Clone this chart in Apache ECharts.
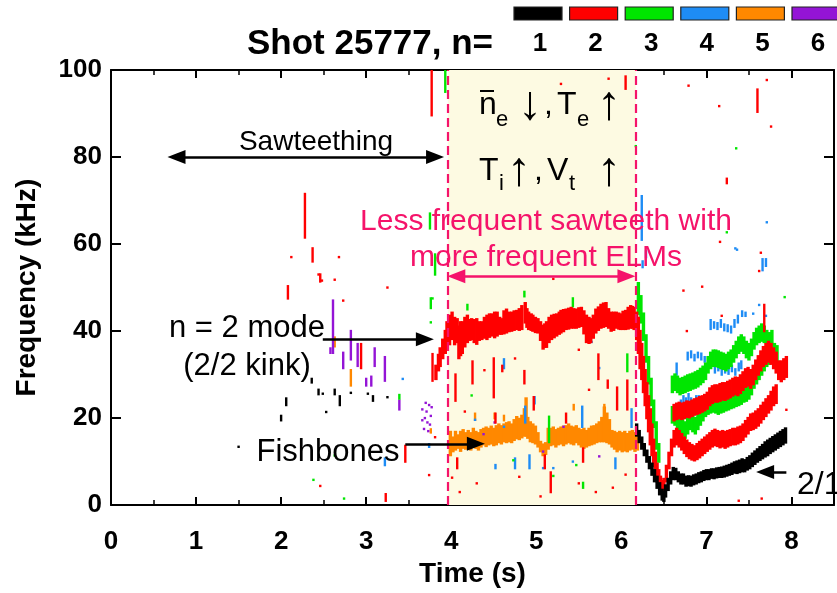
<!DOCTYPE html>
<html>
<head>
<meta charset="utf-8">
<title>Shot 25777 mode spectrogram</title>
<script src="https://cdn.jsdelivr.net/npm/echarts@6/dist/echarts.min.js"></script>
<style>
  html, body { margin: 0; padding: 0; background: #fff; }
  #chart { width: 837px; height: 593px; }
</style>
</head>
<body>
<div id="chart"></div>
<script>
// ---- Axis ranges and tick labels ----
const timeRange = [0, 8.5];
const timeTicks = [0, 1, 2, 3, 4, 5, 6, 7, 8];
const freqRange = [0, 100];
const freqTicks = [0, 20, 40, 60, 80, 100];
const modeNumbers = ['1', '2', '3', '4', '5', '6'];

// ---- Mode data: [time (s), fLow (kHz), fHigh (kHz)] or [time, f] ----
// Continuous traces are drawn as dense bands, isolated points as small dots.

// n = 1 (black)
const mode1Points = [
  [1.50, 13.4], [2.00, 19.5, 20.5], [2.06, 23, 24.5], [2.36, 28.2, 29], [2.44, 25.5, 26.5],
  [2.49, 25.6], [2.53, 21.4], [2.63, 25.5, 26.5], [2.69, 23, 25], [2.82, 25.8],
  [3.02, 25.6], [3.08, 24, 25], [3.25, 24.8]
];
const mode1Trace = [
  [6.18, 16, 18.5], [6.21, 14.5, 17], [6.24, 13, 15.5], [6.27, 11.5, 14], [6.30, 10, 12.5],
  [6.33, 8.5, 11], [6.36, 7, 9.5], [6.39, 5.5, 8], [6.42, 4, 6.5], [6.45, 2.5, 5],
  [6.48, 1.3, 3.5], [6.50, 1, 3], [6.52, 2, 4.5], [6.55, 3.5, 6], [6.58, 5, 7.5],
  [6.61, 6, 8.5], [6.64, 6, 8.3], [6.67, 5.5, 7.5], [6.70, 5, 7], [6.73, 5, 7],
  [6.76, 4.5, 6.5], [6.79, 4.6, 6.6], [6.82, 4.5, 6.5], [6.85, 4.8, 6.8], [6.88, 5, 7],
  [6.91, 5.3, 7.3], [6.94, 5.5, 7.5], [6.97, 5.8, 7.8], [7.00, 6, 8], [7.03, 6, 8],
  [7.06, 6.3, 8.2], [7.09, 6.2, 8.2], [7.12, 6.4, 8.4], [7.15, 6.5, 8.5], [7.18, 6.5, 8.6],
  [7.21, 6.6, 8.8], [7.24, 6.8, 9], [7.27, 7, 9.2], [7.30, 7.2, 9.5], [7.33, 7.5, 9.8],
  [7.36, 7.4, 10], [7.39, 7.6, 10.2], [7.42, 7.8, 10.5], [7.45, 7.8, 10.3], [7.48, 8.2, 10.8],
  [7.51, 8.5, 11.2], [7.54, 9, 11.8], [7.57, 9.5, 12.3], [7.60, 10, 12.8], [7.63, 10.4, 13.3],
  [7.66, 10.8, 13.8], [7.69, 11.2, 14.4], [7.72, 11.5, 14.8], [7.75, 12, 15.2], [7.78, 12.4, 15.6],
  [7.81, 12.8, 16], [7.84, 13.2, 16.4], [7.87, 13.6, 16.8], [7.90, 14, 17.2], [7.93, 14.4, 17.6]
];

// n = 2 (red)
const mode2Points = [
  [2.08, 47.5, 50.3], [2.12, 57], [2.28, 61.5, 71.5], [2.37, 56, 59], [2.44, 53],
  [2.46, 51.4, 53], [2.48, 51.6], [2.63, 51.8], [2.68, 57], [2.73, 47], [2.94, 31.5, 37],
  [3.25, 50], [3.46, 10, 13.6], [3.23, 1, 2.5], [2.46, 4.4], [3.74, 6.9], [3.81, 15.6],
  [3.77, 89.6, 100], [3.78, 28.6, 34.7],
  [4.50, 24.8, 33.7], [4.60, 30.8, 32], [4.75, 33.7], [4.86, 28, 30.8], [4.97, 22, 24.8],
  [4.39, 31], [5.20, 52], [5.50, 35.7], [5.73, 29, 34.6], [5.84, 27, 28.6], [6.07, 22, 28.6],
  [5.35, 19, 21], [4.52, 19, 21], [4.07, 8.5, 10.7], [4.01, 6.3], [5.10, 8.5, 11.4],
  [5.55, 10, 13], [4.10, 3], [4.30, 5], [4.80, 6.5], [5.05, 2], [5.50, 5], [5.70, 3],
  [5.90, 4], [6.05, 7], [5.29, 96.8], [5.85, 98], [6.05, 95.7, 98.5],
  [4.05, 24, 30], [4.25, 28, 33], [5.17, 3, 7.5], [5.95, 22, 27], [4.16, 21.5], [5.62, 26.5],
  [6.73, 49.3], [6.77, 40], [6.95, 50.2], [7.18, 43.5], [7.62, 53.8], [7.68, 40, 46],
  [7.94, 21.9], [7.38, 1], [7.65, 1.5], [6.79, 96.4], [7.15, 91.7],
  [7.60, 90.4, 95.5], [7.71, 97.7], [7.76, 87], [7.24, 74, 75], [7.16, 60.5], [7.64, 58]
];
const mode2Trace = [
  // 2/2 kink band
  [3.82, 29, 32], [3.85, 31, 34.5], [3.87, 32, 36], [3.90, 33.8, 38], [3.93, 35, 40],
  [3.95, 36, 42], [3.98, 37, 43.5], [4.01, 38.2, 44.2], [4.04, 37, 43], [4.07, 37.5, 42.7],
  [4.09, 33.8, 41], [4.11, 34.5, 42], [4.13, 35, 42], [4.16, 36.5, 43], [4.19, 37.5, 43.5],
  [4.22, 38, 42.5], [4.24, 38.2, 42.7], [4.27, 37.5, 42.5], [4.30, 37.1, 42.7], [4.33, 38, 42],
  [4.36, 38.2, 42], [4.39, 38.5, 43], [4.42, 38.2, 43.5], [4.45, 38.7, 43.8], [4.48, 39, 43.8],
  [4.51, 38.6, 44.2], [4.54, 39, 44.2], [4.57, 39.4, 43], [4.59, 39.4, 42.7], [4.62, 39.5, 44.5],
  [4.65, 39.7, 44.9], [4.68, 40, 44.2], [4.71, 40.1, 44.2], [4.74, 40.3, 44.5], [4.77, 40.5, 44.6],
  [4.80, 40.3, 45], [4.83, 40.5, 45.7], [4.87, 42, 46.4], [4.89, 41, 45], [4.91, 40.5, 44.2],
  [4.94, 40.3, 43.8], [4.96, 40.1, 43.5], [4.99, 39.8, 43], [5.02, 39.7, 42.7], [5.05, 38, 42],
  [5.08, 36, 41.2], [5.10, 36.4, 41.5], [5.12, 36.4, 42], [5.15, 37.5, 43], [5.18, 38.2, 43.5],
  [5.21, 38.6, 43.7], [5.24, 39, 43.8], [5.27, 39.4, 44.2], [5.29, 39.7, 44.6], [5.32, 40, 44.8],
  [5.35, 40.5, 44.9], [5.38, 40.6, 45.1], [5.41, 40.8, 45.3], [5.44, 40.8, 45], [5.47, 40.8, 44.9],
  [5.50, 41, 45.2], [5.53, 41.2, 45.3], [5.56, 39.5, 44.5], [5.59, 37.5, 43.5], [5.62, 37.3, 43],
  [5.64, 37.5, 42.7], [5.67, 38.5, 43.5], [5.70, 39.7, 44.9], [5.73, 40.3, 45.4], [5.76, 40.8, 46],
  [5.79, 41, 46.3], [5.82, 41.2, 46.4], [5.85, 40.8, 45], [5.88, 40.1, 44.2], [5.91, 40.3, 44.2],
  [5.94, 40.8, 44.2], [5.97, 40.6, 44], [5.99, 40.5, 43.8], [6.02, 40.5, 44.4], [6.05, 40.5, 44.6],
  [6.08, 40.6, 45.3], [6.11, 40.8, 45.7], [6.13, 40.8, 45.5], [6.15, 40.5, 45.3], [6.18, 38.2, 44.2],
  [6.20, 35, 43],
  // collapse after 6.2 s
  [6.22, 31.5, 40], [6.24, 29, 37], [6.26, 26, 34], [6.28, 23, 31], [6.30, 20, 28],
  [6.32, 17, 25], [6.34, 14, 22], [6.36, 11.5, 18.5], [6.38, 9, 15], [6.40, 7, 12],
  [6.42, 5.5, 9.5], [6.44, 4.5, 8], [6.46, 3.5, 6.5], [6.48, 3, 5.5],
  // lower branch
  [6.50, 3, 6], [6.53, 5.5, 9], [6.56, 8.5, 12], [6.59, 11.5, 15], [6.62, 13.5, 17],
  [6.65, 14, 17.5], [6.68, 13.5, 17], [6.71, 12.8, 16.3], [6.74, 12, 15.5], [6.77, 11.3, 14.8],
  [6.80, 10.8, 14.2], [6.83, 10.5, 13.8], [6.86, 10.3, 13.5], [6.89, 10.6, 14], [6.92, 11, 14.5],
  [6.95, 11.5, 15], [6.98, 12, 15.5], [7.01, 12.5, 16], [7.04, 13, 16.5], [7.07, 13.5, 17],
  [7.10, 13.8, 17.3], [7.13, 13.6, 17], [7.16, 13.3, 16.8], [7.19, 13.5, 17], [7.22, 13.2, 16.8],
  [7.25, 13.5, 17], [7.28, 13.8, 17.2], [7.31, 14, 17.5], [7.34, 14, 17.5], [7.37, 14.2, 17.8],
  [7.40, 14.5, 18], [7.43, 15, 18.5], [7.46, 15.8, 19.3], [7.49, 16.5, 20], [7.52, 17.3, 20.8],
  [7.55, 17.5, 21], [7.58, 17.8, 21.5], [7.61, 18.3, 22], [7.64, 19, 22.8], [7.67, 19.8, 23.5],
  [7.70, 20.5, 24.3], [7.73, 21.3, 25], [7.76, 22, 26], [7.79, 23, 27], [7.82, 23.5, 27.5],
  // upper branch
  [6.62, 19.5, 23], [6.65, 19.8, 23.3], [6.68, 20, 23.5], [6.71, 19.8, 23.3], [6.74, 20, 23.5],
  [6.77, 20.3, 23.8], [6.80, 20.2, 23.7], [6.83, 20.5, 24], [6.86, 20.8, 24.3], [6.89, 21, 24.5],
  [6.92, 21.2, 24.8], [6.95, 21.5, 25], [6.98, 21.8, 25.3], [7.01, 22.2, 25.8], [7.04, 23, 26.8],
  [7.07, 23.5, 27.3], [7.10, 23.8, 27.5], [7.13, 23.8, 27.5], [7.16, 24, 27.8], [7.19, 24.3, 28],
  [7.22, 24.2, 28], [7.25, 24.5, 28.3], [7.28, 24.8, 28.6], [7.31, 25.2, 29], [7.34, 25.5, 29.3],
  [7.37, 25.3, 29.2], [7.40, 25.8, 29.8], [7.43, 26.5, 30.5], [7.46, 27.2, 31.2], [7.49, 27.5, 31.5],
  [7.52, 27, 31], [7.55, 27.8, 32], [7.58, 29, 33.2], [7.61, 30, 34.2], [7.64, 31, 35.3],
  [7.67, 32, 36.3], [7.70, 32.5, 37], [7.73, 33, 37.5], [7.76, 32.5, 37], [7.79, 31.5, 36],
  [7.82, 30.5, 35], [7.85, 29, 33], [7.88, 28.5, 33], [7.91, 29, 33.5], [7.94, 29.5, 34]
];

// n = 3 (green)
const mode3Points = [
  [3.93, 95, 100], [3.75, 63.6, 67], [3.81, 53, 57.6], [3.78, 47.5], [3.76, 45.3, 47.5],
  [3.76, 42], [3.39, 24.5, 25.3], [2.63, 11.4], [2.38, 5.8], [2.74, 1.5],
  [4.86, 48, 49], [4.19, 45, 46], [4.19, 41.5], [4.24, 25.2], [5.43, 45.7, 47.5],
  [5.15, 14.5, 20.3], [6.07, 30.8, 34.6], [5.20, 6.7], [4.73, 10.3], [5.55, 4, 5.1],
  [5.47, 9.2], [6.17, 82.5], [7.35, 82], [7.24, 62.7], [7.92, 47.8]
];
const mode3Trace = [
  // collapse after 6.2 s
  [6.20, 44, 51], [6.23, 42, 48], [6.26, 38, 44], [6.29, 33, 39], [6.32, 28, 34],
  [6.35, 23, 29], [6.38, 18, 24], [6.41, 13, 19], [6.44, 10, 14],
  // upper branch
  [6.60, 26, 29.5], [6.63, 26.5, 30], [6.66, 26, 29.5], [6.69, 25.5, 29], [6.72, 25.8, 29.2],
  [6.75, 26, 29.5], [6.78, 26.3, 29.8], [6.81, 26.5, 30], [6.84, 26.8, 30.2], [6.87, 27, 30.5],
  [6.90, 27.3, 30.8], [6.93, 27.8, 31.3], [6.96, 28.3, 31.8], [6.99, 29, 32.5], [7.02, 30.5, 34],
  [7.05, 31.5, 35], [7.08, 32, 35.5], [7.11, 32, 35.5], [7.14, 31.8, 35.3], [7.17, 31.5, 35],
  [7.20, 31.3, 34.8], [7.23, 31, 34.5], [7.26, 31.5, 35], [7.29, 32, 35.5], [7.32, 33, 36.5],
  [7.35, 34, 37.5], [7.38, 35, 38.5], [7.41, 35.5, 39], [7.44, 35, 38.5], [7.47, 34, 37.5],
  [7.50, 33.5, 37], [7.53, 34.5, 38], [7.56, 36, 39.5], [7.59, 37, 40.5], [7.62, 37.5, 41],
  [7.65, 37.8, 41.5], [7.68, 37.5, 41], [7.71, 36.5, 40], [7.74, 35.5, 39.5], [7.77, 36, 40],
  // lower branch
  [6.60, 19, 22.5], [6.63, 18.5, 22], [6.66, 17.5, 21], [6.69, 16.5, 20], [6.72, 16, 19.5],
  [6.75, 15.5, 19], [6.78, 16.5, 20], [6.81, 17.5, 21], [6.84, 17, 20.5], [6.87, 16.5, 20],
  [6.90, 17.5, 21], [6.93, 18.5, 22], [6.96, 19.5, 23], [6.99, 20.5, 24], [7.02, 21, 24.5],
  [7.05, 21.3, 24.8], [7.08, 21.5, 25], [7.11, 21.3, 24.8], [7.14, 21, 24.5], [7.17, 21.3, 24.8],
  [7.20, 21.5, 25], [7.23, 21.8, 25.3], [7.26, 22, 25.5], [7.29, 22.3, 25.8], [7.32, 22.5, 26],
  [7.35, 22.8, 26.3], [7.38, 23, 26.5], [7.41, 23.3, 26.8], [7.44, 23.8, 27.3], [7.47, 24, 27.5],
  [7.50, 24.5, 28], [7.53, 25.5, 29], [7.56, 27, 30.5], [7.59, 28, 31.5], [7.62, 29, 32.5],
  [7.65, 30, 33.5], [7.68, 31, 34.5], [7.71, 32, 35.5], [7.74, 32.5, 36], [7.77, 33, 36.5],
  [7.80, 33.5, 37], [7.83, 33, 36.5]
];

// n = 4 (blue)
const mode4Points = [
  [3.43, 29], [3.74, 13.4, 14], [3.22, 9.2, 10.7],
  [4.62, 31.5, 33.5], [4.87, 19, 22.6], [4.98, 23.4, 24.8], [4.92, 8.5, 11.4], [5.54, 18, 22.6],
  [5.74, 31.5], [5.65, 37.5], [4.28, 19.6], [4.62, 18], [4.52, 8.5, 9.2], [4.75, 8.5, 10.7],
  [5.08, 8.5], [5.20, 8.5], [5.43, 10], [5.93, 8.5, 10.7], [6.12, 18, 22],
  [6.25, 31.5, 34], [6.27, 28, 31], [6.29, 25, 27], [6.29, 57, 58.3], [6.25, 54.7, 56],
  [6.24, 61, 71], [6.61, 28.6], [6.65, 30, 32.5], [6.70, 22.6, 24], [6.73, 23.5, 25],
  [6.76, 23, 24.5], [6.79, 22.5, 25.5], [6.82, 23.5, 24.5], [6.85, 22.5, 24], [6.88, 24, 25],
  [6.91, 23, 25], [6.95, 22.8, 24], [6.78, 33.5, 35], [6.82, 34, 35.3], [6.86, 33.3, 34.5],
  [6.90, 34, 35], [6.94, 33.5, 34.8], [6.98, 33, 34], [7.05, 40.5, 42.5], [7.09, 40.8, 42],
  [7.13, 40.5, 41.8], [7.17, 41, 42.5], [7.21, 40.2, 41.5], [7.25, 40, 41.3], [7.29, 39.7, 41],
  [7.33, 41, 42.5], [7.37, 42, 43.5], [7.42, 43.5, 44.5], [7.46, 43.5, 44.2], [7.10, 30.5, 32],
  [7.14, 31, 32.5], [7.18, 30, 31.5], [7.22, 30.5, 32], [7.26, 30.2, 31.5], [7.30, 30.8, 32],
  [7.34, 30, 31.2], [7.38, 31, 32.5], [7.41, 31.5, 33], [7.34, 59], [7.66, 54, 56.5],
  [7.70, 55, 56.5], [7.62, 46], [7.70, 43.5], [7.55, 44], [7.71, 65], [7.36, 58.7]
];

// n = 5 (orange): fishbones
const mode5Points = [
  [2.63, 36.5, 38.5], [2.82, 27.5, 31], [3.76, 16.7, 17.4],
  [4.28, 19.6, 21], [4.51, 20, 21], [4.62, 19.5, 20.5], [5.44, 22, 23], [5.80, 22, 23],
  [6.37, 20.3, 22]
];
const mode5Trace = [
  [3.99, 11.5, 16.8], [4.02, 12.4, 15.5], [4.05, 12.8, 16.8], [4.08, 13.2, 16], [4.11, 12.5, 16.8],
  [4.14, 13.2, 17.2], [4.17, 13, 16.5], [4.20, 13.5, 17], [4.23, 12.8, 16.5], [4.26, 13.5, 17.5],
  [4.29, 13.2, 16.8], [4.32, 12.8, 16.5], [4.35, 13.5, 17.2], [4.38, 14, 17.5], [4.41, 13.6, 17.8],
  [4.44, 14, 17.5], [4.47, 14.2, 18], [4.50, 13.8, 17.5], [4.53, 14, 18.1], [4.56, 14.5, 18.5],
  [4.59, 14.2, 18.1], [4.62, 14.7, 18.5], [4.65, 14.5, 18.8], [4.68, 14.7, 19], [4.71, 14.5, 18.5],
  [4.74, 15, 19.5], [4.77, 15.4, 20.2], [4.80, 15.2, 19.8], [4.83, 15.6, 20.5], [4.86, 16, 22],
  [4.88, 16, 24.5], [4.90, 15.5, 20], [4.93, 14.7, 19], [4.96, 14.5, 18.5], [4.99, 14.2, 18],
  [5.02, 13.5, 16.5], [5.05, 12.4, 14.5], [5.08, 11.5, 13.9], [5.11, 11.8, 14.2], [5.14, 13, 17.5],
  [5.17, 13.8, 17.5], [5.20, 14, 17.8], [5.23, 13.5, 17.2], [5.26, 14, 17.5], [5.29, 14.2, 17.8],
  [5.32, 13.8, 18], [5.35, 14.2, 18.1], [5.38, 14.5, 18.5], [5.41, 14.2, 18], [5.44, 14, 17.8],
  [5.47, 14.5, 18.1], [5.50, 14, 17.5], [5.53, 13.5, 17.2], [5.56, 13.2, 17.5], [5.59, 13.5, 17],
  [5.62, 13.8, 17.5], [5.65, 14, 18], [5.68, 14.2, 18.1], [5.71, 14.5, 18.5], [5.74, 14.7, 19],
  [5.77, 14.7, 20], [5.80, 14.7, 22.4], [5.83, 14.5, 21], [5.86, 14.2, 19.5], [5.89, 13.5, 17],
  [5.92, 13, 16.8], [5.95, 12.4, 16.5], [5.98, 12.8, 16.8], [6.01, 12.4, 16.5], [6.04, 12.6, 16.8],
  [6.07, 12.4, 16.3], [6.10, 12.8, 16.8], [6.13, 13, 17], [6.16, 12.5, 16.5], [6.19, 12.8, 16]
];

// n = 6 (purple)
const mode6Points = [
  [2.58, 35, 36], [2.61, 35, 47], [2.73, 31.5, 35], [2.82, 33.5, 40], [2.90, 32, 37],
  [3.00, 27.5, 29], [3.06, 27.5, 29.5], [3.10, 32, 36], [3.22, 28.6, 34], [3.39, 22, 24],
  [3.66, 22], [3.69, 20], [3.71, 21.5], [3.72, 19], [3.74, 23], [3.75, 18.5],
  [3.68, 17.5], [3.73, 17], [3.66, 19.5], [3.77, 22.5], [3.70, 23.5], [3.76, 20.5],
  [4.38, 16.3], [4.51, 19], [5.08, 12.3], [5.32, 18], [5.74, 11.2]
];

// ---- Annotation geometry in data units (arrow-head centres at the pointed ends) ----
const highlightSpan = [3.96, 6.17];
const sawtoothArrow = [[0.77, 80], [3.81, 80]];
const kinkArrow = [[2.49, 38.1], [3.69, 38.1]];
const fishboneArrow = [[3.46, 14.1], [4.29, 14.1]];
const elmArrow = [[4.06, 52.6], [6.06, 52.6]];
const tearingArrow = [[7.94, 7.6], [7.69, 7.6]];

const modeColors = ['#000000', '#ff0000', '#00e600', '#1e8cf5', '#ff8800', '#9414d6'];
const modeTraces = [mode1Trace, mode2Trace, mode3Trace, [], mode5Trace, []];
const modePoints = [mode1Points, mode2Points, mode3Points, mode4Points, mode5Points, mode6Points];
const pink = '#f5136a';
const FONT = '"Liberation Sans", Arial, "DejaVu Sans", sans-serif';

const chart = echarts.init(document.getElementById('chart'), null, { renderer: 'canvas' });

// Each entry becomes a vertical rectangle spanning fLow..fHigh
function streakRenderer(w) {
  return function (params, api) {
    const t = api.value(0);
    const top = api.coord([t, api.value(2)]);
    const bot = api.coord([t, api.value(1)]);
    return {
      type: 'rect',
      shape: { x: top[0] - w / 2, y: top[1] - 1.2, width: w, height: Math.max(bot[1] - top[1], 0) + 2.4 },
      style: { fill: api.visual('color') }
    };
  };
}

function modeSeries(i, data, w) {
  return {
    type: 'custom',
    name: 'n=' + modeNumbers[i],
    renderItem: streakRenderer(w),
    clip: true,
    z: 3,
    itemStyle: { color: modeColors[i] },
    dimensions: ['t', 'lo', 'hi'],
    encode: { x: 't', y: ['lo', 'hi'] },
    data: data.map(d => d.length === 2 ? [d[0], d[1], d[1]] : d),
    silent: true
  };
}

// Drawing order: n=5, 6, 4, 3, 2, 1 (black on top)
const drawOrder = [4, 5, 3, 2, 1, 0];
const dataSeries = [];
drawOrder.forEach(i => {
  if (modeTraces[i].length) dataSeries.push(modeSeries(i, modeTraces[i], 3.4));
  dataSeries.push(modeSeries(i, modePoints[i], 2.4));
});

function arrowLine(pts, color, both) {
  return [
    { coord: pts[0], symbol: both ? 'triangle' : 'none' },
    { coord: pts[1], symbol: 'triangle' }
  ].map(p => Object.assign(p, { lineStyle: { color: color } }));
}

const tickLabelStyle = { fontFamily: FONT, fontWeight: 'bold', fontSize: 26, color: '#000' };
const frameLine = { show: true, onZero: false, lineStyle: { color: '#000', width: 2 } };

const option = {
  backgroundColor: '#ffffff',
  animation: false,
  grid: { left: 111, right: -4, top: 70, bottom: 76, containLabel: false },
  xAxis: [
    {
      type: 'value', min: timeRange[0], max: timeRange[1], interval: 1,
      position: 'bottom',
      name: 'Time (s)', nameLocation: 'middle', nameGap: 52,
      nameTextStyle: { fontFamily: FONT, fontWeight: 'bold', fontSize: 28, color: '#000' },
      axisLine: frameLine,
      axisTick: { show: true, inside: true, length: 8, lineStyle: { color: '#000', width: 2 } },
      minorTick: { show: true, splitNumber: 2, length: 5, lineStyle: { color: '#000', width: 1.5 } },
      splitLine: { show: false },
      axisLabel: Object.assign({ margin: 24, formatter: v => timeTicks.includes(v) ? String(v) : '' }, tickLabelStyle)
    },
    {
      type: 'value', min: timeRange[0], max: timeRange[1], interval: 1,
      position: 'top',
      axisLine: frameLine,
      axisTick: { show: true, inside: true, length: 8, lineStyle: { color: '#000', width: 2 } },
      minorTick: { show: true, splitNumber: 2, length: 5, lineStyle: { color: '#000', width: 1.5 } },
      splitLine: { show: false },
      axisLabel: { show: false }
    }
  ],
  yAxis: [
    {
      type: 'value', min: freqRange[0], max: freqRange[1], interval: 20,
      position: 'left',
      name: 'Frequency (kHz)', nameLocation: 'middle', nameGap: 70,
      nameTextStyle: { fontFamily: FONT, fontWeight: 'bold', fontSize: 28, color: '#000' },
      axisLine: frameLine,
      axisTick: { show: true, inside: true, length: 10, lineStyle: { color: '#000', width: 2 } },
      splitLine: { show: false },
      axisLabel: Object.assign({ margin: 9, formatter: v => freqTicks.includes(v) ? String(v) : '' }, tickLabelStyle)
    },
    {
      type: 'value', min: freqRange[0], max: freqRange[1], interval: 20,
      position: 'right',
      axisLine: frameLine,
      axisTick: { show: true, inside: true, length: 10, lineStyle: { color: '#000', width: 2 } },
      splitLine: { show: false },
      axisLabel: { show: false }
    }
  ],
  series: [
    {
      // shaded interval with less frequent sawteeth
      type: 'scatter', data: [], z: 1, silent: true,
      markArea: {
        silent: true,
        itemStyle: { color: '#fdfae2' },
        data: [[{ xAxis: highlightSpan[0] }, { xAxis: highlightSpan[1] }]]
      }
    },
    ...dataSeries,
    {
      // dashed boundaries of the shaded interval
      type: 'scatter', data: [], z: 9, silent: true,
      markLine: {
        silent: true,
        symbol: ['none', 'none'],
        label: { show: false },
        lineStyle: { color: pink, width: 2.2, type: [9, 5] },
        data: [{ xAxis: highlightSpan[0] }, { xAxis: highlightSpan[1] }]
      }
    },
    {
      // annotation arrows
      type: 'scatter', data: [], z: 10, silent: true,
      markLine: {
        silent: true,
        label: { show: false },
        symbolSize: [14, 18],
        data: [
          arrowLine(sawtoothArrow, '#000', true),
          arrowLine(kinkArrow, '#000', false),
          arrowLine(fishboneArrow, '#000', false),
          arrowLine(elmArrow, pink, true),
          arrowLine(tearingArrow, '#000', false)
        ],
        lineStyle: { width: 2.5, type: 'solid' }
      }
    }
  ],
  graphic: []
};

// Title, legend swatches and text annotations
const g = option.graphic;
g.push({ type: 'text', x: 370, y: 44, style: { text: 'Shot 25777, n=', font: 'bold 35px ' + FONT, fill: '#000', textAlign: 'center', textVerticalAlign: 'middle' } });
modeNumbers.forEach((n, i) => {
  const cx = 538 + 55.6 * i;
  g.push({ type: 'rect', shape: { x: cx - 24, y: 7, width: 48, height: 13 }, style: { fill: modeColors[i], stroke: '#222', lineWidth: 1.2 } });
  g.push({ type: 'text', x: cx + 2, y: 44, style: { text: n, font: 'bold 26px ' + FONT, fill: '#000', textAlign: 'center', textVerticalAlign: 'middle' } });
});
function label(text, x, y, size, color, align) {
  g.push({ type: 'text', x: x, y: y, z: 20, style: { text: text, font: size + 'px ' + FONT, fill: color || '#000', textAlign: align || 'center', textVerticalAlign: 'middle' } });
}
label('Sawteething', 316, 142, 28);
label('n = 2 mode', 247, 328, 31);
label('(2/2 kink)', 247, 366, 31);
label('Fishbones', 328, 452, 31);
label('Less frequent sawteeth with', 546, 222, 30, pink);
label('more frequent ELMs', 546, 258, 30, pink);
label('2/1', 797, 485, 32, '#000', 'left');
// plasma parameter trends: line-averaged density, temperatures and rotation
label('n', 479, 105, 32, '#000', 'left');
label('e', 496, 120, 22, '#000', 'left');
label('\u2193', 530, 106, 48, '#000', 'center');
label(',', 544, 105, 32, '#000', 'left');
label('T', 557, 105, 32, '#000', 'left');
label('e', 577, 120, 22, '#000', 'left');
label('\u2191', 609, 106, 48, '#000', 'center');
label('T', 479, 171, 32, '#000', 'left');
label('i', 499, 184, 22, '#000', 'left');
label('\u2191', 519, 172, 48, '#000', 'center');
label(',', 534, 171, 32, '#000', 'left');
label('V', 547, 171, 32, '#000', 'left');
label('t', 569, 184, 22, '#000', 'left');
label('\u2191', 609, 172, 48, '#000', 'center');
g.push({ type: 'line', z: 20, shape: { x1: 480, y1: 91, x2: 494, y2: 91 }, style: { stroke: '#000', lineWidth: 2 } });

chart.setOption(option);
</script>
</body>
</html>
